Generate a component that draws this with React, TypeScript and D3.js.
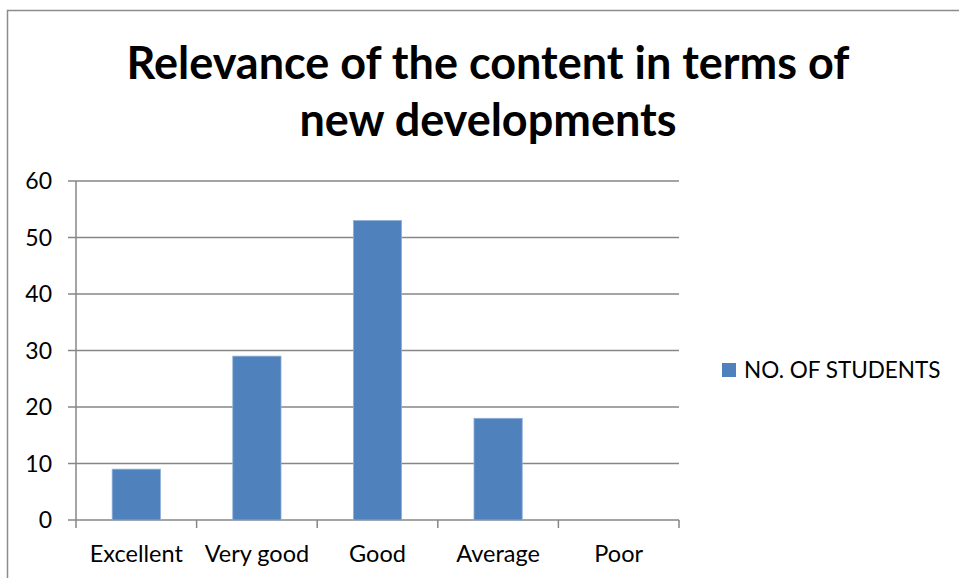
import { useRef, useEffect } from 'react';
import * as d3 from 'd3';

const categories = ['Excellent', 'Very good', 'Good', 'Average', 'Poor'];
const students = [9, 29, 53, 18, 0];
const yTicks = [0, 10, 20, 30, 40, 50, 60];
const titleLines = ['Relevance of the content in terms of', 'new developments'];
const seriesName = 'NO. OF STUDENTS';

const W = 959;
const H = 578;

export default function App() {
  const svgRef = useRef<SVGSVGElement>(null);

  useEffect(() => {
    const svg = d3.select(svgRef.current);
    svg.selectAll('*').remove();

    const font = 'Lato, "Open Sans", sans-serif';
    const grey = '#868686';
    const barColor = '#4F81BD';

    // outer chart border (only top/left visible in the crop)
    svg.append('rect')
      .attr('x', 7.5).attr('y', 10.5).attr('width', W + 20).attr('height', H + 20)
      .attr('fill', 'white').attr('stroke', '#8c8c8c').attr('stroke-width', 1.5);

    // title
    titleLines.forEach((t, i) => {
      svg.append('text')
        .attr('x', 488).attr('y', 79 + i * 57)
        .attr('text-anchor', 'middle')
        .attr('font-family', font).attr('font-weight', 'bold')
        .attr('font-size', 45).attr('fill', '#000')
        .text(t);
    });

    const plot = { left: 76, right: 679, top: 181, bottom: 520 };

    const x = d3.scaleBand<string>().domain(categories).range([plot.left, plot.right]).paddingInner(0);
    const y = d3.scaleLinear().domain([0, 60]).range([plot.bottom, plot.top]);
    const barW = x.bandwidth() / 2.5;

    // gridlines
    yTicks.forEach(t => {
      svg.append('line')
        .attr('x1', plot.left - 8).attr('x2', plot.right)
        .attr('y1', y(t)).attr('y2', y(t))
        .attr('stroke', grey).attr('stroke-width', 1.5);
      svg.append('text')
        .attr('x', 52).attr('y', y(t))
        .attr('dy', '0.36em')
        .attr('text-anchor', 'end')
        .attr('font-family', font).attr('font-size', 23).attr('fill', '#000')
        .text(t);
    });

    // y axis line
    svg.append('line')
      .attr('x1', plot.left).attr('x2', plot.left)
      .attr('y1', plot.top).attr('y2', plot.bottom)
      .attr('stroke', grey).attr('stroke-width', 1.5);

    // x tick marks at category boundaries
    const bounds = categories.map(c => x(c)!).concat([plot.right]);
    bounds.forEach(b => {
      svg.append('line')
        .attr('x1', b).attr('x2', b)
        .attr('y1', plot.bottom).attr('y2', plot.bottom + 8)
        .attr('stroke', grey).attr('stroke-width', 1.5);
    });

    // bars
    svg.append('g').selectAll('rect')
      .data(categories.map((c, i) => ({ c, v: students[i] })).filter(d => d.v > 0))
      .join('rect')
      .attr('x', d => x(d.c)! + (x.bandwidth() - barW) / 2)
      .attr('y', d => y(d.v))
      .attr('width', barW)
      .attr('height', d => y(0) - y(d.v))
      .attr('fill', barColor)
      .attr('stroke', '#8fb0d8').attr('stroke-width', 0.8);

    // category labels
    categories.forEach(c => {
      svg.append('text')
        .attr('x', x(c)! + x.bandwidth() / 2).attr('y', 562)
        .attr('text-anchor', 'middle')
        .attr('font-family', font).attr('font-size', 23.5).attr('fill', '#000')
        .text(c);
    });

    // legend
    svg.append('rect')
      .attr('x', 722).attr('y', 363).attr('width', 14).attr('height', 14)
      .attr('fill', barColor);
    svg.append('text')
      .attr('x', 744).attr('y', 370).attr('dy', '0.36em')
      .attr('font-family', font).attr('font-size', 22.5).attr('fill', '#000')
      .text(seriesName);
  }, []);

  return (
    <div style={{ position: 'absolute', left: 0, top: 0 }}>
      <svg ref={svgRef} width={W} height={H} style={{ display: 'block' }} />
    </div>
  );
}
